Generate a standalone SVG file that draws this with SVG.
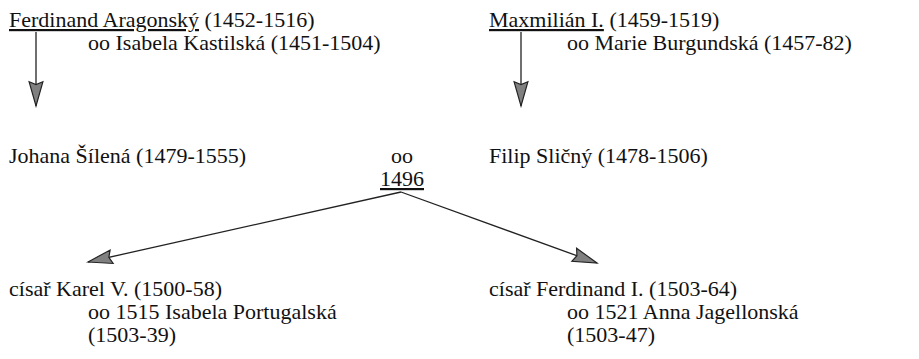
<svg xmlns="http://www.w3.org/2000/svg" width="919" height="359" viewBox="0 0 919 359">
  <defs>
    <style>
      text { font-family: "Liberation Serif", Tinos, "Times New Roman", Times, serif; font-size: 22px; fill: #111; }
      .u { text-decoration: underline; }
      .conn { stroke: #222; stroke-width: 1.3; fill: none; }
    </style>
    <marker id="arr" markerUnits="userSpaceOnUse" markerWidth="30" markerHeight="20" viewBox="-24 -8 26 16" refX="0" refY="0" orient="auto">
      <path d="M0,0 L-21,-6 L-18.5,0 L-21,6 Z" fill="#808080" stroke="#222" stroke-width="1"/>
    </marker>
  </defs>
  <rect width="919" height="359" fill="#fff"/>

  <g id="ferdinand-aragonsky">
    <text x="9" y="27"><tspan class="u">Ferdinand Aragonský</tspan> (1452-1516)</text>
    <text x="88" y="50">oo Isabela Kastilská (1451-1504)</text>
  </g>
  <g id="maxmilian">
    <text x="489" y="27"><tspan class="u">Maxmilián I.</tspan> (1459-1519)</text>
    <text x="567" y="50">oo Marie Burgundská (1457-82)</text>
  </g>
  <g id="johana">
    <text x="9" y="163">Johana Šílená (1479-1555)</text>
  </g>
  <g id="marriage-1496">
    <text x="402" y="163" text-anchor="middle">oo</text>
    <text x="402" y="186" text-anchor="middle" class="u">1496</text>
  </g>
  <g id="filip">
    <text x="489" y="163">Filip Sličný (1478-1506)</text>
  </g>
  <g id="karel">
    <text x="9" y="296">císař Karel V. (1500-58)</text>
    <text x="88" y="319">oo 1515 Isabela Portugalská</text>
    <text x="88" y="342">(1503-39)</text>
  </g>
  <g id="ferdinand-i">
    <text x="489" y="296">císař Ferdinand I. (1503-64)</text>
    <text x="567" y="319">oo 1521 Anna Jagellonská</text>
    <text x="567" y="342">(1503-47)</text>
  </g>

  <g id="connectors">
    <line class="conn" x1="36" y1="32" x2="36" y2="106" marker-end="url(#arr)"/>
    <line class="conn" x1="521" y1="32" x2="521" y2="106" marker-end="url(#arr)"/>
    <line class="conn" x1="401" y1="192" x2="88" y2="262" marker-end="url(#arr)"/>
    <line class="conn" x1="401" y1="192" x2="597" y2="263" marker-end="url(#arr)"/>
  </g>
</svg>
